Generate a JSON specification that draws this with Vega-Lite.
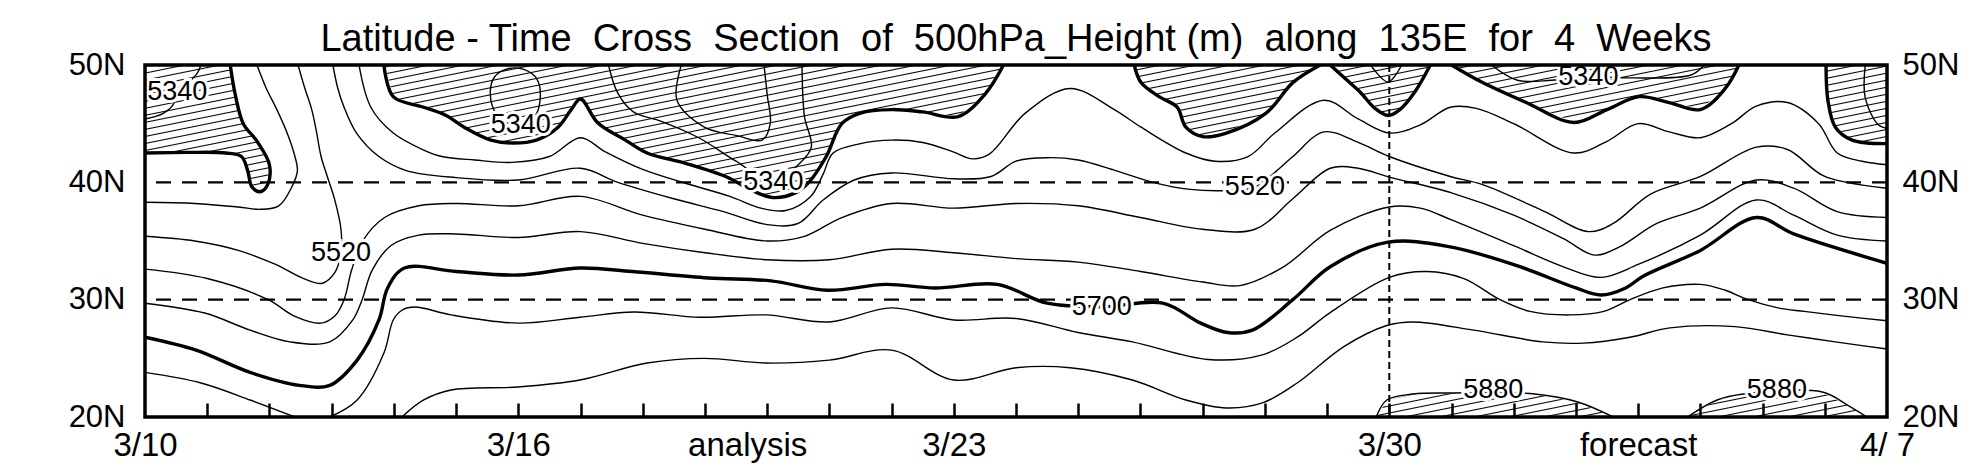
{
  "$schema": "https://vega.github.io/schema/vega-lite/v6.json",
  "width": 1742,
  "height": 352,
  "autosize": "none",
  "padding": {"left": 145, "top": 65, "right": 95, "bottom": 59},
  "background": "white",
  "config": {
    "view": {"stroke": null},
    "font": "Liberation Sans",
    "axis": {"labelFont": "Liberation Sans", "labelColor": "black", "grid": false, "title": null}
  },
  "title": {
    "text": "Latitude - Time \u00a0Cross \u00a0Section \u00a0of \u00a0500hPa_Height (m) \u00a0along \u00a0135E \u00a0for \u00a04 \u00a0Weeks",
    "fontSize": 38, "font": "Liberation Sans", "fontWeight": "normal", "color": "black",
    "anchor": "middle", "frame": "group", "baseline": "alphabetic", "offset": -40
  },
  "datasets": {
    "frame": [{"d0": 0, "d1": 28, "l0": 20, "l1": 50}],
    "hz": [{"lat": 30}, {"lat": 40}],
    "vt": [{"day": 20}],
    "labs": [
      {"t": "5340", "d": 0.52, "l": 47.7},
      {"t": "5340", "d": 6.04, "l": 44.9},
      {"t": "5340", "d": 10.1, "l": 40.0},
      {"t": "5340", "d": 23.2, "l": 49.0},
      {"t": "5520", "d": 3.15, "l": 34.0},
      {"t": "5520", "d": 17.84, "l": 39.6},
      {"t": "5700", "d": 15.38, "l": 29.4},
      {"t": "5880", "d": 21.67, "l": 22.3},
      {"t": "5880", "d": 26.23, "l": 22.3}
    ],
    "mask": [
      {"d": -1, "l": 42.5},
      {"d": 0, "l": 42.5}, {"d": 0.7, "l": 42.55}, {"d": 1.3, "l": 42.5}, {"d": 1.55, "l": 42.2}, {"d": 1.65, "l": 41}, {"d": 1.72, "l": 39.6}, {"d": 1.85, "l": 39.2}, {"d": 1.97, "l": 39.8}, {"d": 2.0, "l": 41.5}, {"d": 1.8, "l": 43.5}, {"d": 1.58, "l": 45.0}, {"d": 1.45, "l": 47.5}, {"d": 1.37, "l": 50},
      {"d": 1.37, "l": 51}, {"d": 3.84, "l": 51},
      {"d": 3.84, "l": 50}, {"d": 3.99, "l": 47.3}, {"d": 4.48, "l": 46.4}, {"d": 4.84, "l": 45.7}, {"d": 5.13, "l": 44.7}, {"d": 5.56, "l": 43.6}, {"d": 5.92, "l": 43.35}, {"d": 6.29, "l": 43.6}, {"d": 6.64, "l": 44.7}, {"d": 6.85, "l": 46.2}, {"d": 7.0, "l": 47.1}, {"d": 7.28, "l": 45.05}, {"d": 7.72, "l": 43.6}, {"d": 8.07, "l": 42.5}, {"d": 8.7, "l": 41.6}, {"d": 9.35, "l": 40.45}, {"d": 9.76, "l": 39.3}, {"d": 10.1, "l": 38.7}, {"d": 10.45, "l": 39.1}, {"d": 10.67, "l": 40.0}, {"d": 10.95, "l": 42.2}, {"d": 11.2, "l": 45.0}, {"d": 11.5, "l": 45.9}, {"d": 12.0, "l": 46.2}, {"d": 12.5, "l": 46.0}, {"d": 13.07, "l": 45.6}, {"d": 13.5, "l": 47.5}, {"d": 13.8, "l": 50},
      {"d": 13.8, "l": 51}, {"d": 15.9, "l": 51},
      {"d": 15.9, "l": 50}, {"d": 16.01, "l": 48.5}, {"d": 16.3, "l": 47.3}, {"d": 16.59, "l": 46.4}, {"d": 16.73, "l": 44.7}, {"d": 17.0, "l": 43.9}, {"d": 17.38, "l": 44.2}, {"d": 18.02, "l": 45.9}, {"d": 18.45, "l": 48.5}, {"d": 18.89, "l": 50},
      {"d": 18.89, "l": 51}, {"d": 19.05, "l": 51},
      {"d": 19.05, "l": 50}, {"d": 19.3, "l": 48.8}, {"d": 19.53, "l": 47.7}, {"d": 19.77, "l": 46.3}, {"d": 19.98, "l": 45.7}, {"d": 20.17, "l": 46.2}, {"d": 20.41, "l": 47.7}, {"d": 20.66, "l": 50},
      {"d": 20.66, "l": 51}, {"d": 21.0, "l": 51},
      {"d": 21.0, "l": 50}, {"d": 21.5, "l": 48.5}, {"d": 22.2, "l": 46.8}, {"d": 22.97, "l": 45.1}, {"d": 23.5, "l": 46.2}, {"d": 24.02, "l": 47.3}, {"d": 24.5, "l": 46.8}, {"d": 25.0, "l": 46.2}, {"d": 25.4, "l": 48}, {"d": 25.62, "l": 50},
      {"d": 25.62, "l": 51}, {"d": 27.02, "l": 51},
      {"d": 27.02, "l": 50}, {"d": 27.05, "l": 47.0}, {"d": 27.17, "l": 44.7}, {"d": 27.44, "l": 43.6}, {"d": 28, "l": 43.3},
      {"d": 29, "l": 43.3}, {"d": 29, "l": 19},
      {"d": 27.68, "l": 19}, {"d": 27.68, "l": 20}, {"d": 27.37, "l": 21.0}, {"d": 26.96, "l": 22.13}, {"d": 25.69, "l": 21.96}, {"d": 25.27, "l": 21.45}, {"d": 24.79, "l": 20}, {"d": 24.79, "l": 19},
      {"d": 23.6, "l": 19}, {"d": 23.6, "l": 20}, {"d": 23.03, "l": 21.28}, {"d": 22.34, "l": 21.96}, {"d": 21.0, "l": 22.05}, {"d": 20.38, "l": 21.96}, {"d": 19.96, "l": 21.45}, {"d": 19.79, "l": 20}, {"d": 19.79, "l": 19},
      {"d": -1, "l": 19}
    ],
    "cont": [
      {"id": "p1", "lv": 5400, "d": 0, "l": 42.5}, {"id": "p1", "lv": 5400, "d": 0.7, "l": 42.55}, {"id": "p1", "lv": 5400, "d": 1.3, "l": 42.5}, {"id": "p1", "lv": 5400, "d": 1.55, "l": 42.2}, {"id": "p1", "lv": 5400, "d": 1.65, "l": 41}, {"id": "p1", "lv": 5400, "d": 1.72, "l": 39.6}, {"id": "p1", "lv": 5400, "d": 1.85, "l": 39.2}, {"id": "p1", "lv": 5400, "d": 1.97, "l": 39.8}, {"id": "p1", "lv": 5400, "d": 2.0, "l": 41.5}, {"id": "p1", "lv": 5400, "d": 1.8, "l": 43.5}, {"id": "p1", "lv": 5400, "d": 1.58, "l": 45.0}, {"id": "p1", "lv": 5400, "d": 1.45, "l": 47.5}, {"id": "p1", "lv": 5400, "d": 1.37, "l": 50},
      {"id": "p2", "lv": 5400, "d": 3.84, "l": 50}, {"id": "p2", "lv": 5400, "d": 3.99, "l": 47.3}, {"id": "p2", "lv": 5400, "d": 4.48, "l": 46.4}, {"id": "p2", "lv": 5400, "d": 4.84, "l": 45.7}, {"id": "p2", "lv": 5400, "d": 5.13, "l": 44.7}, {"id": "p2", "lv": 5400, "d": 5.56, "l": 43.6}, {"id": "p2", "lv": 5400, "d": 5.92, "l": 43.35}, {"id": "p2", "lv": 5400, "d": 6.29, "l": 43.6}, {"id": "p2", "lv": 5400, "d": 6.64, "l": 44.7}, {"id": "p2", "lv": 5400, "d": 6.85, "l": 46.2}, {"id": "p2", "lv": 5400, "d": 7.0, "l": 47.1}, {"id": "p2", "lv": 5400, "d": 7.28, "l": 45.05}, {"id": "p2", "lv": 5400, "d": 7.72, "l": 43.6}, {"id": "p2", "lv": 5400, "d": 8.07, "l": 42.5}, {"id": "p2", "lv": 5400, "d": 8.7, "l": 41.6}, {"id": "p2", "lv": 5400, "d": 9.35, "l": 40.45}, {"id": "p2", "lv": 5400, "d": 9.76, "l": 39.3}, {"id": "p2", "lv": 5400, "d": 10.1, "l": 38.7}, {"id": "p2", "lv": 5400, "d": 10.45, "l": 39.1}, {"id": "p2", "lv": 5400, "d": 10.67, "l": 40.0}, {"id": "p2", "lv": 5400, "d": 10.95, "l": 42.2}, {"id": "p2", "lv": 5400, "d": 11.2, "l": 45.0}, {"id": "p2", "lv": 5400, "d": 11.5, "l": 45.9}, {"id": "p2", "lv": 5400, "d": 12.0, "l": 46.2}, {"id": "p2", "lv": 5400, "d": 12.5, "l": 46.0}, {"id": "p2", "lv": 5400, "d": 13.07, "l": 45.6}, {"id": "p2", "lv": 5400, "d": 13.5, "l": 47.5}, {"id": "p2", "lv": 5400, "d": 13.8, "l": 50},
      {"id": "p3", "lv": 5400, "d": 15.9, "l": 50}, {"id": "p3", "lv": 5400, "d": 16.01, "l": 48.5}, {"id": "p3", "lv": 5400, "d": 16.3, "l": 47.3}, {"id": "p3", "lv": 5400, "d": 16.59, "l": 46.4}, {"id": "p3", "lv": 5400, "d": 16.73, "l": 44.7}, {"id": "p3", "lv": 5400, "d": 17.0, "l": 43.9}, {"id": "p3", "lv": 5400, "d": 17.38, "l": 44.2}, {"id": "p3", "lv": 5400, "d": 18.02, "l": 45.9}, {"id": "p3", "lv": 5400, "d": 18.45, "l": 48.5}, {"id": "p3", "lv": 5400, "d": 18.89, "l": 50},
      {"id": "p4", "lv": 5400, "d": 19.05, "l": 50}, {"id": "p4", "lv": 5400, "d": 19.3, "l": 48.8}, {"id": "p4", "lv": 5400, "d": 19.53, "l": 47.7}, {"id": "p4", "lv": 5400, "d": 19.77, "l": 46.3}, {"id": "p4", "lv": 5400, "d": 19.98, "l": 45.7}, {"id": "p4", "lv": 5400, "d": 20.17, "l": 46.2}, {"id": "p4", "lv": 5400, "d": 20.41, "l": 47.7}, {"id": "p4", "lv": 5400, "d": 20.66, "l": 50},
      {"id": "p5", "lv": 5400, "d": 21.0, "l": 50}, {"id": "p5", "lv": 5400, "d": 21.5, "l": 48.5}, {"id": "p5", "lv": 5400, "d": 22.2, "l": 46.8}, {"id": "p5", "lv": 5400, "d": 22.97, "l": 45.1}, {"id": "p5", "lv": 5400, "d": 23.5, "l": 46.2}, {"id": "p5", "lv": 5400, "d": 24.02, "l": 47.3}, {"id": "p5", "lv": 5400, "d": 24.5, "l": 46.8}, {"id": "p5", "lv": 5400, "d": 25.0, "l": 46.2}, {"id": "p5", "lv": 5400, "d": 25.4, "l": 48}, {"id": "p5", "lv": 5400, "d": 25.62, "l": 50},
      {"id": "p6", "lv": 5400, "d": 27.02, "l": 50}, {"id": "p6", "lv": 5400, "d": 27.05, "l": 47.0}, {"id": "p6", "lv": 5400, "d": 27.17, "l": 44.7}, {"id": "p6", "lv": 5400, "d": 27.44, "l": 43.6}, {"id": "p6", "lv": 5400, "d": 28, "l": 43.3},
      {"id": "q1", "lv": 5340, "d": 0.9, "l": 50}, {"id": "q1", "lv": 5340, "d": 0.84, "l": 49.3}, {"id": "q1", "lv": 5340, "d": 0.7, "l": 48.5}, {"id": "q1", "lv": 5340, "d": 0.52, "l": 47.7}, {"id": "q1", "lv": 5340, "d": 0.45, "l": 46.6}, {"id": "q1", "lv": 5340, "d": 0.3, "l": 45.9}, {"id": "q1", "lv": 5340, "d": 0.16, "l": 45.6}, {"id": "q1", "lv": 5340, "d": 0, "l": 45.4},
      {"id": "q2", "lv": 5340, "d": 6.0, "l": 44.8}, {"id": "q2", "lv": 5340, "d": 6.25, "l": 45.5}, {"id": "q2", "lv": 5340, "d": 6.35, "l": 47}, {"id": "q2", "lv": 5340, "d": 6.3, "l": 48.8}, {"id": "q2", "lv": 5340, "d": 6.1, "l": 49.6}, {"id": "q2", "lv": 5340, "d": 5.85, "l": 49.7}, {"id": "q2", "lv": 5340, "d": 5.62, "l": 49}, {"id": "q2", "lv": 5340, "d": 5.55, "l": 47.5}, {"id": "q2", "lv": 5340, "d": 5.65, "l": 45.8}, {"id": "q2", "lv": 5340, "d": 5.85, "l": 45.0}, {"id": "q2", "lv": 5340, "d": 6.0, "l": 44.8},
      {"id": "q3", "lv": 5340, "d": 7.45, "l": 50}, {"id": "q3", "lv": 5340, "d": 7.6, "l": 47.6}, {"id": "q3", "lv": 5340, "d": 7.85, "l": 46.0}, {"id": "q3", "lv": 5340, "d": 8.3, "l": 45.2}, {"id": "q3", "lv": 5340, "d": 8.9, "l": 43.8}, {"id": "q3", "lv": 5340, "d": 9.5, "l": 41.8}, {"id": "q3", "lv": 5340, "d": 10.1, "l": 40.0}, {"id": "q3", "lv": 5340, "d": 10.5, "l": 41.5}, {"id": "q3", "lv": 5340, "d": 10.71, "l": 43.0}, {"id": "q3", "lv": 5340, "d": 10.6, "l": 45.6}, {"id": "q3", "lv": 5340, "d": 10.56, "l": 50},
      {"id": "q4", "lv": 5280, "d": 8.62, "l": 50}, {"id": "q4", "lv": 5280, "d": 8.55, "l": 47.0}, {"id": "q4", "lv": 5280, "d": 8.99, "l": 44.7}, {"id": "q4", "lv": 5280, "d": 9.5, "l": 44.0}, {"id": "q4", "lv": 5280, "d": 9.92, "l": 43.6}, {"id": "q4", "lv": 5280, "d": 10.05, "l": 45}, {"id": "q4", "lv": 5280, "d": 10.0, "l": 47.5}, {"id": "q4", "lv": 5280, "d": 9.95, "l": 50},
      {"id": "q5", "lv": 5340, "d": 19.7, "l": 50}, {"id": "q5", "lv": 5340, "d": 19.98, "l": 48.55}, {"id": "q5", "lv": 5340, "d": 20.2, "l": 50},
      {"id": "q6", "lv": 5340, "d": 21.64, "l": 50}, {"id": "q6", "lv": 5340, "d": 22.06, "l": 48.7}, {"id": "q6", "lv": 5340, "d": 22.61, "l": 48.7}, {"id": "q6", "lv": 5340, "d": 23.2, "l": 49.0}, {"id": "q6", "lv": 5340, "d": 23.87, "l": 48.9}, {"id": "q6", "lv": 5340, "d": 24.85, "l": 49.15}, {"id": "q6", "lv": 5340, "d": 25.06, "l": 50},
      {"id": "q7", "lv": 5340, "d": 27.65, "l": 50}, {"id": "q7", "lv": 5340, "d": 27.65, "l": 47.2}, {"id": "q7", "lv": 5340, "d": 27.86, "l": 44.9}, {"id": "q7", "lv": 5340, "d": 28, "l": 44.6},
      {"id": "r1", "lv": 5460, "d": 0, "l": 38.3}, {"id": "r1", "lv": 5460, "d": 0.8, "l": 38.2}, {"id": "r1", "lv": 5460, "d": 1.5, "l": 37.9}, {"id": "r1", "lv": 5460, "d": 1.85, "l": 37.7}, {"id": "r1", "lv": 5460, "d": 2.15, "l": 38.0}, {"id": "r1", "lv": 5460, "d": 2.35, "l": 39.5}, {"id": "r1", "lv": 5460, "d": 2.45, "l": 41.0}, {"id": "r1", "lv": 5460, "d": 2.41, "l": 42.2}, {"id": "r1", "lv": 5460, "d": 2.3, "l": 44.0}, {"id": "r1", "lv": 5460, "d": 2.12, "l": 46.2}, {"id": "r1", "lv": 5460, "d": 1.95, "l": 48.0}, {"id": "r1", "lv": 5460, "d": 1.8, "l": 50},
      {"id": "r2", "lv": 5460, "d": 3.44, "l": 50}, {"id": "r2", "lv": 5460, "d": 3.63, "l": 46.4}, {"id": "r2", "lv": 5460, "d": 3.99, "l": 44.2}, {"id": "r2", "lv": 5460, "d": 4.48, "l": 42.75}, {"id": "r2", "lv": 5460, "d": 4.77, "l": 42.2}, {"id": "r2", "lv": 5460, "d": 5.3, "l": 41.9}, {"id": "r2", "lv": 5460, "d": 5.9, "l": 41.7}, {"id": "r2", "lv": 5460, "d": 6.5, "l": 42.2}, {"id": "r2", "lv": 5460, "d": 7.0, "l": 43.8}, {"id": "r2", "lv": 5460, "d": 7.4, "l": 42.6}, {"id": "r2", "lv": 5460, "d": 8.0, "l": 41.1}, {"id": "r2", "lv": 5460, "d": 8.7, "l": 39.9}, {"id": "r2", "lv": 5460, "d": 9.4, "l": 38.8}, {"id": "r2", "lv": 5460, "d": 9.9, "l": 37.8}, {"id": "r2", "lv": 5460, "d": 10.3, "l": 37.6}, {"id": "r2", "lv": 5460, "d": 10.7, "l": 38.8}, {"id": "r2", "lv": 5460, "d": 10.9, "l": 40.7}, {"id": "r2", "lv": 5460, "d": 11.06, "l": 42.5}, {"id": "r2", "lv": 5460, "d": 11.5, "l": 43.3}, {"id": "r2", "lv": 5460, "d": 12.0, "l": 43.6}, {"id": "r2", "lv": 5460, "d": 12.5, "l": 43.4}, {"id": "r2", "lv": 5460, "d": 12.99, "l": 42.6}, {"id": "r2", "lv": 5460, "d": 13.3, "l": 42.0}, {"id": "r2", "lv": 5460, "d": 13.57, "l": 42.4}, {"id": "r2", "lv": 5460, "d": 14.15, "l": 45.9}, {"id": "r2", "lv": 5460, "d": 14.87, "l": 48.0}, {"id": "r2", "lv": 5460, "d": 15.58, "l": 46.2}, {"id": "r2", "lv": 5460, "d": 16.01, "l": 44.7}, {"id": "r2", "lv": 5460, "d": 16.73, "l": 42.5}, {"id": "r2", "lv": 5460, "d": 17.2, "l": 41.8}, {"id": "r2", "lv": 5460, "d": 17.73, "l": 42.2}, {"id": "r2", "lv": 5460, "d": 18.16, "l": 44.2}, {"id": "r2", "lv": 5460, "d": 18.95, "l": 47.0}, {"id": "r2", "lv": 5460, "d": 19.5, "l": 45.4}, {"id": "r2", "lv": 5460, "d": 20.0, "l": 44.2}, {"id": "r2", "lv": 5460, "d": 20.5, "l": 44.9}, {"id": "r2", "lv": 5460, "d": 20.98, "l": 46.4}, {"id": "r2", "lv": 5460, "d": 21.4, "l": 46.3}, {"id": "r2", "lv": 5460, "d": 22.0, "l": 45.0}, {"id": "r2", "lv": 5460, "d": 22.97, "l": 42.5}, {"id": "r2", "lv": 5460, "d": 23.5, "l": 43.5}, {"id": "r2", "lv": 5460, "d": 24.0, "l": 45.0}, {"id": "r2", "lv": 5460, "d": 24.5, "l": 44.3}, {"id": "r2", "lv": 5460, "d": 25.0, "l": 43.8}, {"id": "r2", "lv": 5460, "d": 25.5, "l": 45}, {"id": "r2", "lv": 5460, "d": 25.9, "l": 46.5}, {"id": "r2", "lv": 5460, "d": 26.4, "l": 46.8}, {"id": "r2", "lv": 5460, "d": 26.9, "l": 45.0}, {"id": "r2", "lv": 5460, "d": 27.2, "l": 42.5}, {"id": "r2", "lv": 5460, "d": 27.6, "l": 41.8}, {"id": "r2", "lv": 5460, "d": 28, "l": 41.5},
      {"id": "s1", "lv": 5520, "d": 0, "l": 35.4}, {"id": "s1", "lv": 5520, "d": 0.8, "l": 35.0}, {"id": "s1", "lv": 5520, "d": 1.5, "l": 34.2}, {"id": "s1", "lv": 5520, "d": 2.1, "l": 33.0}, {"id": "s1", "lv": 5520, "d": 2.55, "l": 31.8}, {"id": "s1", "lv": 5520, "d": 2.85, "l": 31.4}, {"id": "s1", "lv": 5520, "d": 3.05, "l": 32.3}, {"id": "s1", "lv": 5520, "d": 3.15, "l": 34.0}, {"id": "s1", "lv": 5520, "d": 3.15, "l": 36.0}, {"id": "s1", "lv": 5520, "d": 3.05, "l": 38.5}, {"id": "s1", "lv": 5520, "d": 2.93, "l": 40.5}, {"id": "s1", "lv": 5520, "d": 2.83, "l": 42.2}, {"id": "s1", "lv": 5520, "d": 2.75, "l": 44.5}, {"id": "s1", "lv": 5520, "d": 2.68, "l": 46.2}, {"id": "s1", "lv": 5520, "d": 2.57, "l": 48}, {"id": "s1", "lv": 5520, "d": 2.46, "l": 50},
      {"id": "s2", "lv": 5520, "d": 3.02, "l": 50}, {"id": "s2", "lv": 5520, "d": 3.1, "l": 48}, {"id": "s2", "lv": 5520, "d": 3.2, "l": 46.4}, {"id": "s2", "lv": 5520, "d": 3.4, "l": 44.2}, {"id": "s2", "lv": 5520, "d": 3.76, "l": 42.2}, {"id": "s2", "lv": 5520, "d": 4.2, "l": 41.0}, {"id": "s2", "lv": 5520, "d": 5, "l": 40.4}, {"id": "s2", "lv": 5520, "d": 6, "l": 40.2}, {"id": "s2", "lv": 5520, "d": 7, "l": 41.2}, {"id": "s2", "lv": 5520, "d": 7.6, "l": 40.0}, {"id": "s2", "lv": 5520, "d": 8.5, "l": 38.6}, {"id": "s2", "lv": 5520, "d": 9.3, "l": 37.5}, {"id": "s2", "lv": 5520, "d": 10, "l": 36.4}, {"id": "s2", "lv": 5520, "d": 10.5, "l": 36.5}, {"id": "s2", "lv": 5520, "d": 10.9, "l": 38.5}, {"id": "s2", "lv": 5520, "d": 11.4, "l": 40.2}, {"id": "s2", "lv": 5520, "d": 12, "l": 40.8}, {"id": "s2", "lv": 5520, "d": 13, "l": 40.3}, {"id": "s2", "lv": 5520, "d": 13.6, "l": 40.5}, {"id": "s2", "lv": 5520, "d": 14.0, "l": 41.8}, {"id": "s2", "lv": 5520, "d": 14.5, "l": 42.1}, {"id": "s2", "lv": 5520, "d": 15.0, "l": 41.9}, {"id": "s2", "lv": 5520, "d": 15.6, "l": 41.0}, {"id": "s2", "lv": 5520, "d": 16.2, "l": 40.0}, {"id": "s2", "lv": 5520, "d": 16.8, "l": 39.4}, {"id": "s2", "lv": 5520, "d": 17.4, "l": 39.3}, {"id": "s2", "lv": 5520, "d": 17.84, "l": 39.6}, {"id": "s2", "lv": 5520, "d": 18.15, "l": 40.8}, {"id": "s2", "lv": 5520, "d": 18.45, "l": 42.2}, {"id": "s2", "lv": 5520, "d": 18.95, "l": 44.3}, {"id": "s2", "lv": 5520, "d": 19.5, "l": 43.4}, {"id": "s2", "lv": 5520, "d": 20.0, "l": 42.2}, {"id": "s2", "lv": 5520, "d": 20.98, "l": 40.5}, {"id": "s2", "lv": 5520, "d": 21.5, "l": 39.8}, {"id": "s2", "lv": 5520, "d": 22.5, "l": 37.5}, {"id": "s2", "lv": 5520, "d": 23.2, "l": 35.8}, {"id": "s2", "lv": 5520, "d": 23.6, "l": 36.5}, {"id": "s2", "lv": 5520, "d": 24.2, "l": 39}, {"id": "s2", "lv": 5520, "d": 25, "l": 40.5}, {"id": "s2", "lv": 5520, "d": 25.9, "l": 43}, {"id": "s2", "lv": 5520, "d": 26.4, "l": 42.8}, {"id": "s2", "lv": 5520, "d": 27, "l": 40.5}, {"id": "s2", "lv": 5520, "d": 28, "l": 39.5},
      {"id": "u1", "lv": 5580, "d": 0, "l": 32.6}, {"id": "u1", "lv": 5580, "d": 1.0, "l": 31.8}, {"id": "u1", "lv": 5580, "d": 1.98, "l": 30}, {"id": "u1", "lv": 5580, "d": 2.4, "l": 28.6}, {"id": "u1", "lv": 5580, "d": 2.83, "l": 28.0}, {"id": "u1", "lv": 5580, "d": 3.05, "l": 28.6}, {"id": "u1", "lv": 5580, "d": 3.2, "l": 30}, {"id": "u1", "lv": 5580, "d": 3.32, "l": 32.5}, {"id": "u1", "lv": 5580, "d": 3.5, "l": 35}, {"id": "u1", "lv": 5580, "d": 3.85, "l": 37}, {"id": "u1", "lv": 5580, "d": 4.4, "l": 38}, {"id": "u1", "lv": 5580, "d": 5, "l": 38.2}, {"id": "u1", "lv": 5580, "d": 6, "l": 38.0}, {"id": "u1", "lv": 5580, "d": 7, "l": 38.8}, {"id": "u1", "lv": 5580, "d": 8, "l": 37.2}, {"id": "u1", "lv": 5580, "d": 9, "l": 36.0}, {"id": "u1", "lv": 5580, "d": 10, "l": 35.0}, {"id": "u1", "lv": 5580, "d": 10.6, "l": 35.4}, {"id": "u1", "lv": 5580, "d": 11.2, "l": 37.0}, {"id": "u1", "lv": 5580, "d": 12, "l": 38.2}, {"id": "u1", "lv": 5580, "d": 13, "l": 37.8}, {"id": "u1", "lv": 5580, "d": 14, "l": 38.2}, {"id": "u1", "lv": 5580, "d": 15, "l": 38.0}, {"id": "u1", "lv": 5580, "d": 16, "l": 37.0}, {"id": "u1", "lv": 5580, "d": 17, "l": 36.0}, {"id": "u1", "lv": 5580, "d": 17.84, "l": 36.0}, {"id": "u1", "lv": 5580, "d": 18.45, "l": 38.6}, {"id": "u1", "lv": 5580, "d": 19.05, "l": 41.2}, {"id": "u1", "lv": 5580, "d": 19.5, "l": 41.2}, {"id": "u1", "lv": 5580, "d": 20, "l": 40.45}, {"id": "u1", "lv": 5580, "d": 21, "l": 39.1}, {"id": "u1", "lv": 5580, "d": 22, "l": 37.2}, {"id": "u1", "lv": 5580, "d": 22.8, "l": 35.2}, {"id": "u1", "lv": 5580, "d": 23.3, "l": 33.8}, {"id": "u1", "lv": 5580, "d": 23.7, "l": 34.5}, {"id": "u1", "lv": 5580, "d": 24.3, "l": 36.5}, {"id": "u1", "lv": 5580, "d": 25.0, "l": 37.8}, {"id": "u1", "lv": 5580, "d": 25.9, "l": 40.2}, {"id": "u1", "lv": 5580, "d": 26.5, "l": 39.5}, {"id": "u1", "lv": 5580, "d": 27.2, "l": 37.5}, {"id": "u1", "lv": 5580, "d": 28, "l": 37.0},
      {"id": "v1", "lv": 5640, "d": 0, "l": 29.7}, {"id": "v1", "lv": 5640, "d": 0.96, "l": 28.86}, {"id": "v1", "lv": 5640, "d": 1.69, "l": 27.4}, {"id": "v1", "lv": 5640, "d": 2.33, "l": 26.4}, {"id": "v1", "lv": 5640, "d": 2.97, "l": 26.4}, {"id": "v1", "lv": 5640, "d": 3.34, "l": 28.27}, {"id": "v1", "lv": 5640, "d": 3.49, "l": 30}, {"id": "v1", "lv": 5640, "d": 3.65, "l": 32.5}, {"id": "v1", "lv": 5640, "d": 3.95, "l": 34.6}, {"id": "v1", "lv": 5640, "d": 4.4, "l": 35.5}, {"id": "v1", "lv": 5640, "d": 5, "l": 35.6}, {"id": "v1", "lv": 5640, "d": 6, "l": 35.3}, {"id": "v1", "lv": 5640, "d": 7, "l": 35.8}, {"id": "v1", "lv": 5640, "d": 8, "l": 34.8}, {"id": "v1", "lv": 5640, "d": 9, "l": 34.0}, {"id": "v1", "lv": 5640, "d": 10, "l": 33.4}, {"id": "v1", "lv": 5640, "d": 11, "l": 33.4}, {"id": "v1", "lv": 5640, "d": 12, "l": 34.3}, {"id": "v1", "lv": 5640, "d": 13, "l": 34.0}, {"id": "v1", "lv": 5640, "d": 14, "l": 33.5}, {"id": "v1", "lv": 5640, "d": 15, "l": 33.2}, {"id": "v1", "lv": 5640, "d": 16, "l": 32.4}, {"id": "v1", "lv": 5640, "d": 17, "l": 31.5}, {"id": "v1", "lv": 5640, "d": 17.6, "l": 31.2}, {"id": "v1", "lv": 5640, "d": 18.3, "l": 32.8}, {"id": "v1", "lv": 5640, "d": 19.05, "l": 35.9}, {"id": "v1", "lv": 5640, "d": 20, "l": 37.9}, {"id": "v1", "lv": 5640, "d": 20.5, "l": 37.8}, {"id": "v1", "lv": 5640, "d": 21, "l": 36.8}, {"id": "v1", "lv": 5640, "d": 22, "l": 34.6}, {"id": "v1", "lv": 5640, "d": 22.8, "l": 32.8}, {"id": "v1", "lv": 5640, "d": 23.4, "l": 31.9}, {"id": "v1", "lv": 5640, "d": 24.0, "l": 33.0}, {"id": "v1", "lv": 5640, "d": 25.0, "l": 35.5}, {"id": "v1", "lv": 5640, "d": 25.9, "l": 38.5}, {"id": "v1", "lv": 5640, "d": 26.5, "l": 37.2}, {"id": "v1", "lv": 5640, "d": 27.2, "l": 35.5}, {"id": "v1", "lv": 5640, "d": 28, "l": 35.0},
      {"id": "t57", "lv": 5700, "d": 0, "l": 26.8}, {"id": "t57", "lv": 5700, "d": 0.82, "l": 25.7}, {"id": "t57", "lv": 5700, "d": 1.69, "l": 23.8}, {"id": "t57", "lv": 5700, "d": 2.48, "l": 22.7}, {"id": "t57", "lv": 5700, "d": 2.97, "l": 22.7}, {"id": "t57", "lv": 5700, "d": 3.41, "l": 24.85}, {"id": "t57", "lv": 5700, "d": 3.76, "l": 28.27}, {"id": "t57", "lv": 5700, "d": 3.9, "l": 31.0}, {"id": "t57", "lv": 5700, "d": 4.17, "l": 32.7}, {"id": "t57", "lv": 5700, "d": 5.0, "l": 32.4}, {"id": "t57", "lv": 5700, "d": 6.0, "l": 32.1}, {"id": "t57", "lv": 5700, "d": 7.0, "l": 32.7}, {"id": "t57", "lv": 5700, "d": 7.83, "l": 32.4}, {"id": "t57", "lv": 5700, "d": 9.05, "l": 31.85}, {"id": "t57", "lv": 5700, "d": 10.06, "l": 31.6}, {"id": "t57", "lv": 5700, "d": 10.97, "l": 30.8}, {"id": "t57", "lv": 5700, "d": 11.9, "l": 31.3}, {"id": "t57", "lv": 5700, "d": 12.7, "l": 31.0}, {"id": "t57", "lv": 5700, "d": 13.7, "l": 31.3}, {"id": "t57", "lv": 5700, "d": 14.5, "l": 29.7}, {"id": "t57", "lv": 5700, "d": 15.4, "l": 29.4}, {"id": "t57", "lv": 5700, "d": 16.36, "l": 29.7}, {"id": "t57", "lv": 5700, "d": 16.97, "l": 28.0}, {"id": "t57", "lv": 5700, "d": 17.4, "l": 27.2}, {"id": "t57", "lv": 5700, "d": 17.8, "l": 27.4}, {"id": "t57", "lv": 5700, "d": 18.45, "l": 30.0}, {"id": "t57", "lv": 5700, "d": 19.05, "l": 32.8}, {"id": "t57", "lv": 5700, "d": 19.98, "l": 34.9}, {"id": "t57", "lv": 5700, "d": 20.98, "l": 34.5}, {"id": "t57", "lv": 5700, "d": 22.05, "l": 32.9}, {"id": "t57", "lv": 5700, "d": 23.0, "l": 31.0}, {"id": "t57", "lv": 5700, "d": 23.4, "l": 30.4}, {"id": "t57", "lv": 5700, "d": 23.8, "l": 31.0}, {"id": "t57", "lv": 5700, "d": 24.08, "l": 32.0}, {"id": "t57", "lv": 5700, "d": 25.0, "l": 34.2}, {"id": "t57", "lv": 5700, "d": 25.9, "l": 37.0}, {"id": "t57", "lv": 5700, "d": 26.5, "l": 35.6}, {"id": "t57", "lv": 5700, "d": 28, "l": 33.1},
      {"id": "a576", "lv": 5760, "d": 0, "l": 23.8}, {"id": "a576", "lv": 5760, "d": 0.9, "l": 22.9}, {"id": "a576", "lv": 5760, "d": 1.69, "l": 21.45}, {"id": "a576", "lv": 5760, "d": 2.41, "l": 20.0},
      {"id": "b576", "lv": 5760, "d": 2.97, "l": 20}, {"id": "b576", "lv": 5760, "d": 3.41, "l": 21.45}, {"id": "b576", "lv": 5760, "d": 3.84, "l": 25.45}, {"id": "b576", "lv": 5760, "d": 3.99, "l": 28.27}, {"id": "b576", "lv": 5760, "d": 4.13, "l": 29.1}, {"id": "b576", "lv": 5760, "d": 4.34, "l": 29.37}, {"id": "b576", "lv": 5760, "d": 4.92, "l": 28.7}, {"id": "b576", "lv": 5760, "d": 6.0, "l": 28.0}, {"id": "b576", "lv": 5760, "d": 6.99, "l": 28.5}, {"id": "b576", "lv": 5760, "d": 7.86, "l": 28.95}, {"id": "b576", "lv": 5760, "d": 8.92, "l": 28.5}, {"id": "b576", "lv": 5760, "d": 9.98, "l": 28.7}, {"id": "b576", "lv": 5760, "d": 11.0, "l": 28.1}, {"id": "b576", "lv": 5760, "d": 12.0, "l": 29.3}, {"id": "b576", "lv": 5760, "d": 13.0, "l": 28.27}, {"id": "b576", "lv": 5760, "d": 14.0, "l": 28.4}, {"id": "b576", "lv": 5760, "d": 15.0, "l": 27.2}, {"id": "b576", "lv": 5760, "d": 15.87, "l": 26.4}, {"id": "b576", "lv": 5760, "d": 17.09, "l": 24.9}, {"id": "b576", "lv": 5760, "d": 17.96, "l": 25.3}, {"id": "b576", "lv": 5760, "d": 18.52, "l": 26.8}, {"id": "b576", "lv": 5760, "d": 19.05, "l": 28.9}, {"id": "b576", "lv": 5760, "d": 20.0, "l": 31.9}, {"id": "b576", "lv": 5760, "d": 20.6, "l": 32.4}, {"id": "b576", "lv": 5760, "d": 21.2, "l": 31.8}, {"id": "b576", "lv": 5760, "d": 21.78, "l": 30.0}, {"id": "b576", "lv": 5760, "d": 22.26, "l": 29.0}, {"id": "b576", "lv": 5760, "d": 22.9, "l": 28.7}, {"id": "b576", "lv": 5760, "d": 23.45, "l": 29.0}, {"id": "b576", "lv": 5760, "d": 23.87, "l": 30.0}, {"id": "b576", "lv": 5760, "d": 24.4, "l": 31.0}, {"id": "b576", "lv": 5760, "d": 25.0, "l": 31.3}, {"id": "b576", "lv": 5760, "d": 25.4, "l": 30.8}, {"id": "b576", "lv": 5760, "d": 25.77, "l": 30.0}, {"id": "b576", "lv": 5760, "d": 26.25, "l": 29.3}, {"id": "b576", "lv": 5760, "d": 26.67, "l": 29.0}, {"id": "b576", "lv": 5760, "d": 27.3, "l": 28.6}, {"id": "b576", "lv": 5760, "d": 28, "l": 28.2},
      {"id": "c582", "lv": 5820, "d": 4.13, "l": 20}, {"id": "c582", "lv": 5820, "d": 4.48, "l": 21.45}, {"id": "c582", "lv": 5820, "d": 4.92, "l": 22.3}, {"id": "c582", "lv": 5820, "d": 6.0, "l": 22.56}, {"id": "c582", "lv": 5820, "d": 6.99, "l": 23.15}, {"id": "c582", "lv": 5820, "d": 8.07, "l": 24.6}, {"id": "c582", "lv": 5820, "d": 8.99, "l": 25.0}, {"id": "c582", "lv": 5820, "d": 9.98, "l": 24.6}, {"id": "c582", "lv": 5820, "d": 11.0, "l": 24.85}, {"id": "c582", "lv": 5820, "d": 12.0, "l": 25.7}, {"id": "c582", "lv": 5820, "d": 13.0, "l": 23.15}, {"id": "c582", "lv": 5820, "d": 14.0, "l": 24.2}, {"id": "c582", "lv": 5820, "d": 14.87, "l": 24.2}, {"id": "c582", "lv": 5820, "d": 15.87, "l": 23.15}, {"id": "c582", "lv": 5820, "d": 16.73, "l": 21.45}, {"id": "c582", "lv": 5820, "d": 17.38, "l": 20.77}, {"id": "c582", "lv": 5820, "d": 17.96, "l": 21.2}, {"id": "c582", "lv": 5820, "d": 18.52, "l": 22.9}, {"id": "c582", "lv": 5820, "d": 19.27, "l": 26.0}, {"id": "c582", "lv": 5820, "d": 19.96, "l": 27.8}, {"id": "c582", "lv": 5820, "d": 20.38, "l": 28.1}, {"id": "c582", "lv": 5820, "d": 21.36, "l": 27.4}, {"id": "c582", "lv": 5820, "d": 22.47, "l": 26.4}, {"id": "c582", "lv": 5820, "d": 23.12, "l": 26.3}, {"id": "c582", "lv": 5820, "d": 23.87, "l": 26.8}, {"id": "c582", "lv": 5820, "d": 24.51, "l": 27.6}, {"id": "c582", "lv": 5820, "d": 25.56, "l": 27.7}, {"id": "c582", "lv": 5820, "d": 26.4, "l": 27.0}, {"id": "c582", "lv": 5820, "d": 27.17, "l": 26.4}, {"id": "c582", "lv": 5820, "d": 28, "l": 25.8},
      {"id": "b1", "lv": 5880, "d": 19.79, "l": 20}, {"id": "b1", "lv": 5880, "d": 19.96, "l": 21.45}, {"id": "b1", "lv": 5880, "d": 20.38, "l": 21.96}, {"id": "b1", "lv": 5880, "d": 21.0, "l": 22.05}, {"id": "b1", "lv": 5880, "d": 22.34, "l": 21.96}, {"id": "b1", "lv": 5880, "d": 23.03, "l": 21.28}, {"id": "b1", "lv": 5880, "d": 23.6, "l": 20},
      {"id": "b2", "lv": 5880, "d": 24.79, "l": 20}, {"id": "b2", "lv": 5880, "d": 25.27, "l": 21.45}, {"id": "b2", "lv": 5880, "d": 25.69, "l": 21.96}, {"id": "b2", "lv": 5880, "d": 26.96, "l": 22.13}, {"id": "b2", "lv": 5880, "d": 27.37, "l": 21.0}, {"id": "b2", "lv": 5880, "d": 27.68, "l": 20}
    ]
  },
  "resolve": {"axis": {"x": "independent", "y": "independent"}},
  "layer": [
    {
      "data": {"name": "frame"},
      "mark": {"type": "rect", "strokeWidth": 0, "fill": {"gradient": "linear", "x1": 0, "y1": 0, "x2": 1, "y2": 1, "stops": [
        {"offset":0,"color":"#fff"},{"offset":0.0015,"color":"#000"},{"offset":0.003,"color":"#fff"},
        {"offset":0.01,"color":"#fff"},{"offset":0.0115,"color":"#000"},{"offset":0.013,"color":"#fff"},
        {"offset":0.02,"color":"#fff"},{"offset":0.0215,"color":"#000"},{"offset":0.023,"color":"#fff"},
        {"offset":0.03,"color":"#fff"},{"offset":0.0315,"color":"#000"},{"offset":0.033,"color":"#fff"},
        {"offset":0.04,"color":"#fff"},{"offset":0.0415,"color":"#000"},{"offset":0.043,"color":"#fff"},
        {"offset":0.05,"color":"#fff"},{"offset":0.0515,"color":"#000"},{"offset":0.053,"color":"#fff"},
        {"offset":0.06,"color":"#fff"},{"offset":0.0615,"color":"#000"},{"offset":0.063,"color":"#fff"},
        {"offset":0.07,"color":"#fff"},{"offset":0.0715,"color":"#000"},{"offset":0.073,"color":"#fff"},
        {"offset":0.08,"color":"#fff"},{"offset":0.0815,"color":"#000"},{"offset":0.083,"color":"#fff"},
        {"offset":0.09,"color":"#fff"},{"offset":0.0915,"color":"#000"},{"offset":0.093,"color":"#fff"},
        {"offset":0.10,"color":"#fff"},{"offset":0.1015,"color":"#000"},{"offset":0.103,"color":"#fff"},
        {"offset":0.11,"color":"#fff"},{"offset":0.1115,"color":"#000"},{"offset":0.113,"color":"#fff"},
        {"offset":0.12,"color":"#fff"},{"offset":0.1215,"color":"#000"},{"offset":0.123,"color":"#fff"},
        {"offset":0.13,"color":"#fff"},{"offset":0.1315,"color":"#000"},{"offset":0.133,"color":"#fff"},
        {"offset":0.14,"color":"#fff"},{"offset":0.1415,"color":"#000"},{"offset":0.143,"color":"#fff"},
        {"offset":0.15,"color":"#fff"},{"offset":0.1515,"color":"#000"},{"offset":0.153,"color":"#fff"},
        {"offset":0.16,"color":"#fff"},{"offset":0.1615,"color":"#000"},{"offset":0.163,"color":"#fff"},
        {"offset":0.17,"color":"#fff"},{"offset":0.1715,"color":"#000"},{"offset":0.173,"color":"#fff"},
        {"offset":0.18,"color":"#fff"},{"offset":0.1815,"color":"#000"},{"offset":0.183,"color":"#fff"},
        {"offset":0.19,"color":"#fff"},{"offset":0.1915,"color":"#000"},{"offset":0.193,"color":"#fff"},
        {"offset":0.20,"color":"#fff"},{"offset":0.2015,"color":"#000"},{"offset":0.203,"color":"#fff"},
        {"offset":0.21,"color":"#fff"},{"offset":0.2115,"color":"#000"},{"offset":0.213,"color":"#fff"},
        {"offset":0.22,"color":"#fff"},{"offset":0.2215,"color":"#000"},{"offset":0.223,"color":"#fff"},
        {"offset":0.23,"color":"#fff"},{"offset":0.2315,"color":"#000"},{"offset":0.233,"color":"#fff"},
        {"offset":0.24,"color":"#fff"},{"offset":0.2415,"color":"#000"},{"offset":0.243,"color":"#fff"},
        {"offset":0.25,"color":"#fff"},{"offset":0.2515,"color":"#000"},{"offset":0.253,"color":"#fff"},
        {"offset":0.26,"color":"#fff"},{"offset":0.2615,"color":"#000"},{"offset":0.263,"color":"#fff"},
        {"offset":0.27,"color":"#fff"},{"offset":0.2715,"color":"#000"},{"offset":0.273,"color":"#fff"},
        {"offset":0.28,"color":"#fff"},{"offset":0.2815,"color":"#000"},{"offset":0.283,"color":"#fff"},
        {"offset":0.29,"color":"#fff"},{"offset":0.2915,"color":"#000"},{"offset":0.293,"color":"#fff"},
        {"offset":0.30,"color":"#fff"},{"offset":0.3015,"color":"#000"},{"offset":0.303,"color":"#fff"},
        {"offset":0.31,"color":"#fff"},{"offset":0.3115,"color":"#000"},{"offset":0.313,"color":"#fff"},
        {"offset":0.32,"color":"#fff"},{"offset":0.3215,"color":"#000"},{"offset":0.323,"color":"#fff"},
        {"offset":0.33,"color":"#fff"},{"offset":0.3315,"color":"#000"},{"offset":0.333,"color":"#fff"},
        {"offset":0.34,"color":"#fff"},{"offset":0.3415,"color":"#000"},{"offset":0.343,"color":"#fff"},
        {"offset":0.35,"color":"#fff"},{"offset":0.3515,"color":"#000"},{"offset":0.353,"color":"#fff"},
        {"offset":0.36,"color":"#fff"},{"offset":0.3615,"color":"#000"},{"offset":0.363,"color":"#fff"},
        {"offset":0.37,"color":"#fff"},{"offset":0.3715,"color":"#000"},{"offset":0.373,"color":"#fff"},
        {"offset":0.38,"color":"#fff"},{"offset":0.3815,"color":"#000"},{"offset":0.383,"color":"#fff"},
        {"offset":0.39,"color":"#fff"},{"offset":0.3915,"color":"#000"},{"offset":0.393,"color":"#fff"},
        {"offset":0.40,"color":"#fff"},{"offset":0.4015,"color":"#000"},{"offset":0.403,"color":"#fff"},
        {"offset":0.41,"color":"#fff"},{"offset":0.4115,"color":"#000"},{"offset":0.413,"color":"#fff"},
        {"offset":0.42,"color":"#fff"},{"offset":0.4215,"color":"#000"},{"offset":0.423,"color":"#fff"},
        {"offset":0.43,"color":"#fff"},{"offset":0.4315,"color":"#000"},{"offset":0.433,"color":"#fff"},
        {"offset":0.44,"color":"#fff"},{"offset":0.4415,"color":"#000"},{"offset":0.443,"color":"#fff"},
        {"offset":0.45,"color":"#fff"},{"offset":0.4515,"color":"#000"},{"offset":0.453,"color":"#fff"},
        {"offset":0.46,"color":"#fff"},{"offset":0.4615,"color":"#000"},{"offset":0.463,"color":"#fff"},
        {"offset":0.47,"color":"#fff"},{"offset":0.4715,"color":"#000"},{"offset":0.473,"color":"#fff"},
        {"offset":0.48,"color":"#fff"},{"offset":0.4815,"color":"#000"},{"offset":0.483,"color":"#fff"},
        {"offset":0.49,"color":"#fff"},{"offset":0.4915,"color":"#000"},{"offset":0.493,"color":"#fff"},
        {"offset":0.50,"color":"#fff"},{"offset":0.5015,"color":"#000"},{"offset":0.503,"color":"#fff"},
        {"offset":0.51,"color":"#fff"},{"offset":0.5115,"color":"#000"},{"offset":0.513,"color":"#fff"},
        {"offset":0.52,"color":"#fff"},{"offset":0.5215,"color":"#000"},{"offset":0.523,"color":"#fff"},
        {"offset":0.53,"color":"#fff"},{"offset":0.5315,"color":"#000"},{"offset":0.533,"color":"#fff"},
        {"offset":0.54,"color":"#fff"},{"offset":0.5415,"color":"#000"},{"offset":0.543,"color":"#fff"},
        {"offset":0.55,"color":"#fff"},{"offset":0.5515,"color":"#000"},{"offset":0.553,"color":"#fff"},
        {"offset":0.56,"color":"#fff"},{"offset":0.5615,"color":"#000"},{"offset":0.563,"color":"#fff"},
        {"offset":0.57,"color":"#fff"},{"offset":0.5715,"color":"#000"},{"offset":0.573,"color":"#fff"},
        {"offset":0.58,"color":"#fff"},{"offset":0.5815,"color":"#000"},{"offset":0.583,"color":"#fff"},
        {"offset":0.59,"color":"#fff"},{"offset":0.5915,"color":"#000"},{"offset":0.593,"color":"#fff"},
        {"offset":0.60,"color":"#fff"},{"offset":0.6015,"color":"#000"},{"offset":0.603,"color":"#fff"},
        {"offset":0.61,"color":"#fff"},{"offset":0.6115,"color":"#000"},{"offset":0.613,"color":"#fff"},
        {"offset":0.62,"color":"#fff"},{"offset":0.6215,"color":"#000"},{"offset":0.623,"color":"#fff"},
        {"offset":0.63,"color":"#fff"},{"offset":0.6315,"color":"#000"},{"offset":0.633,"color":"#fff"},
        {"offset":0.64,"color":"#fff"},{"offset":0.6415,"color":"#000"},{"offset":0.643,"color":"#fff"},
        {"offset":0.65,"color":"#fff"},{"offset":0.6515,"color":"#000"},{"offset":0.653,"color":"#fff"},
        {"offset":0.77,"color":"#fff"},{"offset":0.7715,"color":"#000"},{"offset":0.773,"color":"#fff"},
        {"offset":0.78,"color":"#fff"},{"offset":0.7815,"color":"#000"},{"offset":0.783,"color":"#fff"},
        {"offset":0.79,"color":"#fff"},{"offset":0.7915,"color":"#000"},{"offset":0.793,"color":"#fff"},
        {"offset":0.80,"color":"#fff"},{"offset":0.8015,"color":"#000"},{"offset":0.803,"color":"#fff"},
        {"offset":0.81,"color":"#fff"},{"offset":0.8115,"color":"#000"},{"offset":0.813,"color":"#fff"},
        {"offset":0.82,"color":"#fff"},{"offset":0.8215,"color":"#000"},{"offset":0.823,"color":"#fff"},
        {"offset":0.83,"color":"#fff"},{"offset":0.8315,"color":"#000"},{"offset":0.833,"color":"#fff"},
        {"offset":0.84,"color":"#fff"},{"offset":0.8415,"color":"#000"},{"offset":0.843,"color":"#fff"},
        {"offset":0.85,"color":"#fff"},{"offset":0.8515,"color":"#000"},{"offset":0.853,"color":"#fff"},
        {"offset":0.86,"color":"#fff"},{"offset":0.8615,"color":"#000"},{"offset":0.863,"color":"#fff"},
        {"offset":0.87,"color":"#fff"},{"offset":0.8715,"color":"#000"},{"offset":0.873,"color":"#fff"},
        {"offset":0.88,"color":"#fff"},{"offset":0.8815,"color":"#000"},{"offset":0.883,"color":"#fff"},
        {"offset":0.89,"color":"#fff"},{"offset":0.8915,"color":"#000"},{"offset":0.893,"color":"#fff"},
        {"offset":0.90,"color":"#fff"},{"offset":0.9015,"color":"#000"},{"offset":0.903,"color":"#fff"},
        {"offset":0.91,"color":"#fff"},{"offset":0.9115,"color":"#000"},{"offset":0.913,"color":"#fff"},
        {"offset":0.92,"color":"#fff"},{"offset":0.9215,"color":"#000"},{"offset":0.923,"color":"#fff"},
        {"offset":0.93,"color":"#fff"},{"offset":0.9315,"color":"#000"},{"offset":0.933,"color":"#fff"},
        {"offset":0.94,"color":"#fff"},{"offset":0.9415,"color":"#000"},{"offset":0.943,"color":"#fff"},
        {"offset":0.95,"color":"#fff"},{"offset":0.9515,"color":"#000"},{"offset":0.953,"color":"#fff"},
        {"offset":0.96,"color":"#fff"},{"offset":0.9615,"color":"#000"},{"offset":0.963,"color":"#fff"},
        {"offset":0.97,"color":"#fff"},{"offset":0.9715,"color":"#000"},{"offset":0.973,"color":"#fff"},
        {"offset":0.98,"color":"#fff"},{"offset":0.9815,"color":"#000"},{"offset":0.983,"color":"#fff"},
        {"offset":0.99,"color":"#fff"},{"offset":0.9915,"color":"#000"},{"offset":0.993,"color":"#fff"}
      ]}},
      "encoding": {
        "x": {"field": "d0", "type": "quantitative", "scale": {"domain": [0, 28], "nice": false, "zero": false},
              "axis": {"orient": "bottom", "values": [1,2,3,4,5,6,7,8,9,10,11,12,13,14,15,16,17,18,19,20,21,22,23,24,25,26,27], "labels": false, "domain": false, "ticks": true, "tickSize": -14, "tickWidth": 2.5, "tickColor": "black", "zindex": 3}},
        "x2": {"field": "d1"},
        "y": {"field": "l0", "type": "quantitative", "scale": {"domain": [20, 50], "nice": false, "zero": false},
              "axis": {"orient": "left", "values": [20, 30, 40, 50], "labelExpr": "datum.value + 'N'", "ticks": false, "domain": false, "labelFontSize": 31, "labelPadding": 20, "labelOverlap": false, "labelFlush": false}},
        "y2": {"field": "l1"}
      }
    },
    {
      "data": {"name": "mask"},
      "mark": {"type": "line", "fill": "white", "stroke": "white", "strokeWidth": 0.5, "interpolate": "linear", "clip": true},
      "encoding": {
        "x": {"field": "d", "type": "quantitative", "scale": {"domain": [0, 28], "nice": false, "zero": false},
              "axis": {"orient": "bottom", "values": [0, 6, 9.68, 13, 20, 24, 28], "labelExpr": "datum.value==0?'3/10':datum.value==6?'3/16':datum.value==13?'3/23':datum.value==20?'3/30':datum.value==24?'forecast':datum.value==28?'4/ 7':'analysis'", "ticks": false, "domain": false, "labelFontSize": 33, "labelPadding": 12, "labelOverlap": false, "labelFlush": false}},
        "y": {"field": "l", "type": "quantitative", "scale": {"domain": [20, 50], "nice": false, "zero": false},
              "axis": {"orient": "right", "values": [20, 30, 40, 50], "labelExpr": "datum.value + 'N'", "ticks": false, "domain": false, "labelFontSize": 31, "labelPadding": 15, "labelOverlap": false, "labelFlush": false}},
        "order": {"value": null}
      }
    },
    {
      "data": {"name": "hz"},
      "mark": {"type": "rule", "strokeDash": [15, 11], "strokeWidth": 2.2, "color": "black"},
      "encoding": {"y": {"field": "lat", "type": "quantitative", "scale": {"domain": [20, 50], "nice": false, "zero": false}, "axis": null}}
    },
    {
      "data": {"name": "vt"},
      "mark": {"type": "rule", "strokeDash": [7, 4], "strokeWidth": 2, "color": "black"},
      "encoding": {"x": {"field": "day", "type": "quantitative", "scale": {"domain": [0, 28], "nice": false, "zero": false}, "axis": null}}
    },
    {
      "data": {"name": "cont"},
      "transform": [{"filter": "datum.lv != 5400 && datum.lv != 5700"}],
      "mark": {"type": "line", "interpolate": "catmull-rom", "clip": true, "color": "black", "strokeWidth": 1.4},
      "encoding": {
        "x": {"field": "d", "type": "quantitative", "scale": {"domain": [0, 28], "nice": false, "zero": false}, "axis": null},
        "y": {"field": "l", "type": "quantitative", "scale": {"domain": [20, 50], "nice": false, "zero": false}, "axis": null},
        "detail": {"field": "id"},
        "order": {"value": null}
      }
    },
    {
      "data": {"name": "cont"},
      "transform": [{"filter": "datum.lv == 5400 || datum.lv == 5700"}],
      "mark": {"type": "line", "interpolate": "catmull-rom", "clip": true, "color": "black", "strokeWidth": 3.4},
      "encoding": {
        "x": {"field": "d", "type": "quantitative", "scale": {"domain": [0, 28], "nice": false, "zero": false}, "axis": null},
        "y": {"field": "l", "type": "quantitative", "scale": {"domain": [20, 50], "nice": false, "zero": false}, "axis": null},
        "detail": {"field": "id"},
        "order": {"value": null}
      }
    },
    {
      "data": {"name": "labs"},
      "mark": {"type": "text", "font": "Liberation Sans", "fontSize": 27, "fill": "white", "stroke": "white", "strokeWidth": 6},
      "encoding": {
        "x": {"field": "d", "type": "quantitative", "scale": {"domain": [0, 28], "nice": false, "zero": false}, "axis": null},
        "y": {"field": "l", "type": "quantitative", "scale": {"domain": [20, 50], "nice": false, "zero": false}, "axis": null},
        "text": {"field": "t"}
      }
    },
    {
      "data": {"name": "labs"},
      "mark": {"type": "text", "font": "Liberation Sans", "fontSize": 27, "fill": "black"},
      "encoding": {
        "x": {"field": "d", "type": "quantitative", "scale": {"domain": [0, 28], "nice": false, "zero": false}, "axis": null},
        "y": {"field": "l", "type": "quantitative", "scale": {"domain": [20, 50], "nice": false, "zero": false}, "axis": null},
        "text": {"field": "t"}
      }
    },
    {
      "data": {"name": "frame"},
      "mark": {"type": "rect", "filled": false, "color": "black", "strokeWidth": 3.5},
      "encoding": {
        "x": {"field": "d0", "type": "quantitative", "scale": {"domain": [0, 28], "nice": false, "zero": false}, "axis": null},
        "x2": {"field": "d1"},
        "y": {"field": "l0", "type": "quantitative", "scale": {"domain": [20, 50], "nice": false, "zero": false}, "axis": null},
        "y2": {"field": "l1"}
      }
    }
  ]
}
